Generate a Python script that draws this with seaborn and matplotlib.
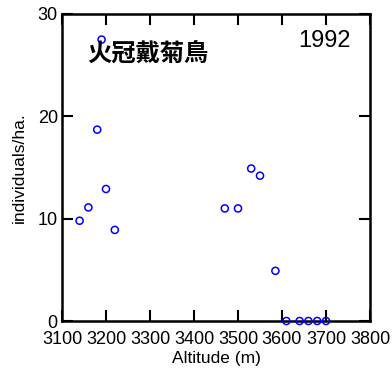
import matplotlib
matplotlib.use("Agg")
import matplotlib.pyplot as plt
import seaborn as sns
import pandas as pd

# Survey transects: altitude (m) and density (individuals/ha.)
altitude = [3140, 3160, 3180, 3190, 3200, 3220, 3470, 3500, 3530, 3550,
            3585, 3610, 3640, 3660, 3680, 3700]
density = [9.8, 11.1, 18.7, 27.5, 12.9, 8.9, 11.0, 11.0, 14.9, 14.2,
           4.9, 0, 0, 0, 0, 0]
x_ticks = [3100, 3200, 3300, 3400, 3500, 3600, 3700, 3800]
y_ticks = [0, 10, 20, 30]
species = "火冠戴菊鳥"
year = "1992"

df = pd.DataFrame({"Altitude (m)": altitude, "individuals/ha.": density})

sns.set_theme(style="ticks")
plt.rcParams["font.family"] = ["Liberation Sans", "DejaVu Sans"]
plt.rcParams["text.color"] = "black"
plt.rcParams["axes.labelcolor"] = "black"

fig = plt.figure(figsize=(3.92, 3.76), dpi=100)
ax = fig.add_axes([62 / 392, 1 - 321 / 376, 308 / 392, 307 / 376])

sns.scatterplot(data=df, x="Altitude (m)", y="individuals/ha.", ax=ax,
                marker="o", s=26, facecolor="none", edgecolor="#0000ff",
                linewidth=1.1, clip_on=False, zorder=3)

ax.set_xlim(3100, 3800)
ax.set_ylim(0, 30)
ax.set_xticks(x_ticks)
ax.set_yticks(y_ticks)
ax.tick_params(direction="in", length=8, width=1.5, top=True, right=True,
               labelsize=13, colors="black", labelcolor="black")
ax.tick_params(axis="x", pad=7)
ax.tick_params(axis="y", pad=3)
for sp in ax.spines.values():
    sp.set_linewidth(1.8)
    sp.set_color("black")
    sp.set_visible(True)

ax.set_xlabel("Altitude (m)", fontsize=12.5, labelpad=2, color="black")
ax.set_ylabel("individuals/ha.", fontsize=12.5, labelpad=8, color="black")

fig.text(148 / 392, 1 - 55 / 376, species, ha="center", va="center",
         fontsize=17.5, fontweight="black", color="black",
         family=["Noto Sans CJK TC", "DejaVu Sans"])
fig.text(324 / 392, 1 - 41 / 376, year, ha="center", va="center",
         fontsize=17, color="black")

fig.savefig("out.png", dpi=100)
